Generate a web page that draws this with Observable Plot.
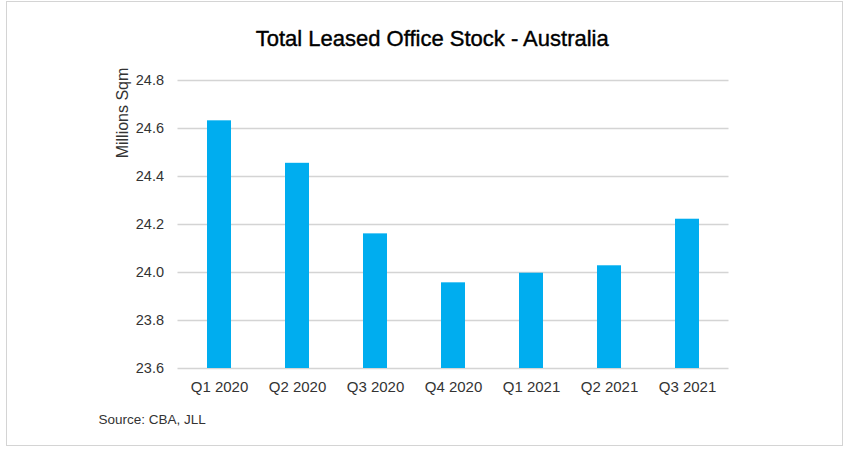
<!DOCTYPE html>
<html>
<head>
<meta charset="utf-8">
<script src="https://cdn.jsdelivr.net/npm/d3@7"></script>
<script src="https://cdn.jsdelivr.net/npm/@observablehq/plot@0.6"></script>
<style>
  body { margin: 0; background: #fff; }
  #wrap { position: relative; width: 848px; height: 454px; }
  #border { position: absolute; left: 6px; top: 1px; width: 835px; height: 443px; border: 1.5px solid #d4d4d4; pointer-events: none; }
  #chart { position: absolute; left: 0; top: 0; }
</style>
</head>
<body>
<div id="wrap"><div id="chart"></div><div id="border"></div></div>
<script>
const title = "Total Leased Office Stock - Australia";
const yLabel = "Millions Sqm";
const source = "Source: CBA, JLL";
const quarters = ["Q1 2020", "Q2 2020", "Q3 2020", "Q4 2020", "Q1 2021", "Q2 2021", "Q3 2021"];
const values = [24.632, 24.455, 24.161, 23.957, 23.997, 24.028, 24.222];
const yDomain = [23.6, 24.8];
const yTicks = [23.6, 23.8, 24.0, 24.2, 24.4, 24.6, 24.8];

const data = quarters.map((q, i) => ({q, v: values[i]}));
const font = "'Liberation Sans', Arial, sans-serif";

const chart = Plot.plot({
  width: 848,
  height: 454,
  marginLeft: 177.5,
  marginRight: 119.5,
  marginTop: 80,
  marginBottom: 86,
  style: {fontFamily: font, fontSize: "14px", color: "#404040", background: "transparent"},
  x: {domain: quarters, paddingInner: 0.69, paddingOuter: 0.345, label: null},
  y: {domain: yDomain, ticks: yTicks, label: null},
  marks: [
    Plot.gridY(yTicks, {stroke: "#d4d4d4", strokeOpacity: 1, strokeWidth: 1.5}),
    Plot.barY(data, {x: "q", y1: yDomain[0], y2: "v", fill: "#00adef"}),
    Plot.axisY(yTicks, {tickSize: 0, tickPadding: 14, tickFormat: d => d.toFixed(1), fontSize: 14.5, fill: "#333"}),
    Plot.axisX({tickSize: 0, tickPadding: 13, fontSize: 15, fill: "#333", label: null}),
    Plot.text([title], {text: d => d, frameAnchor: "top-left", dx: 254.2, dy: -35, textAnchor: "middle", lineAnchor: "bottom", fontSize: 22, fill: "#000", stroke: "#000", strokeWidth: 0.4}),
    Plot.text([yLabel], {text: d => d, frameAnchor: "top-left", dx: -55, dy: 32.5, rotate: -90, textAnchor: "middle", lineAnchor: "middle", fontSize: 16, fill: "#333"}),
    Plot.text([source], {text: d => d, frameAnchor: "top-left", dx: -79.5, dy: 343, textAnchor: "start", lineAnchor: "bottom", fontSize: 13.5, fill: "#333"})
  ]
});
document.getElementById("chart").appendChild(chart);
</script>
</body>
</html>
